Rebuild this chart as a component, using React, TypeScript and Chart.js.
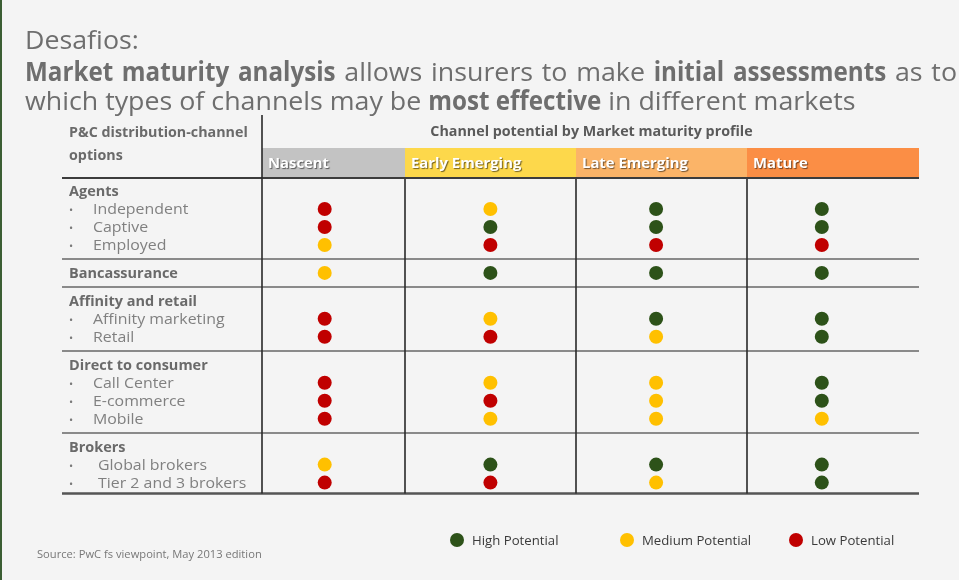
import React, { useEffect, useRef } from "react";
import { Chart, registerables } from "chart.js";

Chart.register(...registerables);

// ---------------- DATA ----------------
const profiles = ["Nascent", "Early Emerging", "Late Emerging", "Mature"];
const levels = ["High", "Medium", "Low"];
const levelLabels = ["High Potential", "Medium Potential", "Low Potential"];

const channelRows = [
  "Independent",
  "Captive",
  "Employed",
  "Bancassurance",
  "Affinity marketing",
  "Retail",
  "Call Center",
  "E-commerce",
  "Mobile",
  "Global brokers",
  "Tier 2 and 3 brokers",
];
const channelGroup = [
  "Agents",
  "Agents",
  "Agents",
  "Bancassurance",
  "Affinity and retail",
  "Affinity and retail",
  "Direct to consumer",
  "Direct to consumer",
  "Direct to consumer",
  "Brokers",
  "Brokers",
];

const nascent = ["Low", "Low", "Medium", "Medium", "Low", "Low", "Low", "Low", "Low", "Medium", "Low"];
const earlyEmerging = ["Medium", "High", "Low", "High", "Medium", "Low", "Medium", "Low", "Medium", "High", "Low"];
const lateEmerging = ["High", "High", "Low", "High", "High", "Medium", "Medium", "Medium", "Medium", "High", "Medium"];
const mature = ["High", "High", "Low", "High", "High", "High", "High", "High", "Medium", "High", "High"];
const columns = [nascent, earlyEmerging, lateEmerging, mature];

// ---------------- STYLE / LAYOUT ----------------
const FONT = "'Open Sans', 'DejaVu Sans', sans-serif";
const BG = "#f4f4f4";
const levelColors: Record<string, string> = { High: "#2d5219", Medium: "#ffc000", Low: "#c00000" };
const headerColors = ["#c3c3c3", "#fdd84b", "#fbb468", "#fb8e45"];
const colEdges = [262, 405, 576, 747, 919];
const TABLE_LEFT = 62;
const HEADER_TOP = 148;
const HEADER_BOTTOM = 177;
const PITCH = 18;
const AREA_TOP = 173;
const AREA_BOTTOM = 500;
const GAP = 1.55;
const legendX = [457, 627, 796];

// horizontal stretch factors per text style (to mimic the original geometric face)
const SX_TITLE = 1.03;
const SX_TITLE_BOLD = 0.93;
const SX_HEAD = 1.02;
const SX_GROUP = 0.965;
const SX_ITEM = 1.06;
const SX_LEGEND = 1.015;
const SX_SOURCE = 1.015;

// build the line layout of rows (in "text line" units)
function buildLayout() {
  const rowLine: number[] = [];
  const headers: { line: number; name: string }[] = [];
  const seps: number[] = [];
  let start = 0;
  let last = -1;
  let cur = "";
  channelRows.forEach((name, i) => {
    const g = channelGroup[i];
    if (g !== cur) {
      if (cur !== "") {
        seps.push(last + GAP / 2);
        start = last + GAP;
      }
      cur = g;
      if (name === g) {
        rowLine.push(start);
        last = start;
      } else {
        headers.push({ line: start, name: g });
        rowLine.push(start + 1);
        last = start + 1;
      }
    } else {
      last = last + 1;
      rowLine.push(last);
    }
  });
  const bottom = last + 0.6;
  return { rowLine, headers, seps, bottom };
}
const layout = buildLayout();

function txt(
  ctx: CanvasRenderingContext2D,
  s: string,
  x: number,
  y: number,
  font: string,
  color: string,
  sx: number,
  align: "left" | "center" = "left"
) {
  ctx.save();
  ctx.font = font;
  ctx.fillStyle = color;
  ctx.textBaseline = "alphabetic";
  ctx.textAlign = "left";
  const w = ctx.measureText(s).width * sx;
  const x0 = align === "center" ? x - w / 2 : x;
  ctx.translate(x0, y);
  ctx.scale(sx, 1);
  ctx.fillText(s, 0, 0);
  ctx.restore();
  return w;
}

function measure(ctx: CanvasRenderingContext2D, s: string, font: string, sx: number) {
  ctx.save();
  ctx.font = font;
  const w = ctx.measureText(s).width * sx;
  ctx.restore();
  return w;
}

const decorPlugin = {
  id: "tableDecor",
  beforeDraw(chart: any) {
    const ctx: CanvasRenderingContext2D = chart.ctx;
    const W = chart.width;
    const H = chart.height;
    const ys = chart.scales.y;
    const py = (v: number) => ys.getPixelForValue(v);
    ctx.save();
    ctx.fillStyle = BG;
    ctx.fillRect(0, 0, W, H);
    // left edge accent
    ctx.fillStyle = "#3b5e33";
    ctx.fillRect(0, 0, 2, H);

    // ---- title ----
    const tColor = "#6e6e6e";
    const tReg = `26px ${FONT}`;
    const tBold = `bold 26px ${FONT}`;
    txt(ctx, "Desafios:", 25, 49, tReg, tColor, SX_TITLE);
    const line2: [string, boolean][] = [
      ["Market", true], ["maturity", true], ["analysis", true], ["allows", false], ["insurers", false],
      ["to", false], ["make", false], ["initial", true], ["assessments", true], ["as", false], ["to", false],
    ];
    const widths = line2.map(([w, b]) => measure(ctx, w, b ? tBold : tReg, b ? SX_TITLE_BOLD : SX_TITLE));
    const total = widths.reduce((a, b) => a + b, 0);
    const gap = (957 - 25 - total) / (line2.length - 1);
    let x = 25;
    line2.forEach(([w, b], i) => {
      txt(ctx, w, x, 81, b ? tBold : tReg, tColor, b ? SX_TITLE_BOLD : SX_TITLE);
      x += widths[i] + gap;
    });
    const line3: [string, boolean][] = [
      ["which types of channels may be ", false], ["most effective", true], [" in different markets", false],
    ];
    x = 25;
    line3.forEach(([w, b]) => {
      x += txt(ctx, w, x, 110, b ? tBold : tReg, tColor, b ? SX_TITLE_BOLD : SX_TITLE);
    });

    // ---- table headers ----
    const hBold = `bold 14px ${FONT}`;
    txt(ctx, "P&C distribution-channel", 69, 137, hBold, "#6a6a6a", SX_HEAD);
    txt(ctx, "options", 69, 160, hBold, "#6a6a6a", SX_HEAD);
    txt(ctx, "Channel potential by Market maturity profile", (colEdges[0] + colEdges[4]) / 2 + 1, 136, hBold, "#5a5a5a", SX_HEAD, "center");

    profiles.forEach((p, i) => {
      ctx.fillStyle = headerColors[i];
      ctx.fillRect(colEdges[i], HEADER_TOP, colEdges[i + 1] - colEdges[i], HEADER_BOTTOM - HEADER_TOP);
      ctx.save();
      ctx.shadowColor = "rgba(0,0,0,0.55)";
      ctx.shadowOffsetX = 1;
      ctx.shadowOffsetY = 1;
      ctx.shadowBlur = 1;
      txt(ctx, p, colEdges[i] + 6, 168, hBold, "#ffffff", 1.06);
      ctx.restore();
    });

    // ---- lines ----
    const yBottom = py(layout.bottom);
    ctx.lineCap = "butt";
    ctx.strokeStyle = "#8a8a8a";
    ctx.lineWidth = 2;
    layout.seps.forEach((s) => {
      const yy = Math.round(py(s));
      ctx.beginPath();
      ctx.moveTo(TABLE_LEFT, yy);
      ctx.lineTo(colEdges[4], yy);
      ctx.stroke();
    });
    ctx.strokeStyle = "#3c3c3c";
    ctx.beginPath();
    ctx.moveTo(TABLE_LEFT, HEADER_BOTTOM + 1);
    ctx.lineTo(colEdges[4], HEADER_BOTTOM + 1);
    ctx.stroke();
    ctx.strokeStyle = "#555555";
    ctx.lineWidth = 2.5;
    ctx.beginPath();
    ctx.moveTo(TABLE_LEFT, yBottom);
    ctx.lineTo(colEdges[4], yBottom);
    ctx.stroke();
    ctx.strokeStyle = "#2a2a2a";
    ctx.lineWidth = 1.6;
    ctx.beginPath();
    ctx.moveTo(colEdges[0], 115);
    ctx.lineTo(colEdges[0], yBottom);
    for (let i = 1; i < 4; i++) {
      ctx.moveTo(colEdges[i], HEADER_BOTTOM + 2);
      ctx.lineTo(colEdges[i], yBottom);
    }
    ctx.stroke();

    // ---- row labels ----
    const gBold = `bold 15px ${FONT}`;
    const iReg = `15px ${FONT}`;
    layout.headers.forEach((h) => {
      txt(ctx, h.name, 69, py(h.line) + 5, gBold, "#6a6a6a", SX_GROUP);
    });
    channelRows.forEach((name, i) => {
      const yy = py(layout.rowLine[i]) + 5;
      if (name === channelGroup[i]) {
        txt(ctx, name, 69, yy, gBold, "#6a6a6a", SX_GROUP);
      } else {
        const indent = channelGroup[i] === "Brokers" ? 98 : 93;
        txt(ctx, "•", 69, yy, `11px ${FONT}`, "#7a7a7a", 1);
        txt(ctx, name, indent, yy, iReg, "#808080", SX_ITEM);
      }
    });

    // ---- legend ----
    levels.forEach((lv, i) => {
      ctx.fillStyle = levelColors[lv];
      ctx.beginPath();
      ctx.arc(legendX[i], 540, 7, 0, Math.PI * 2);
      ctx.fill();
      txt(ctx, levelLabels[i], legendX[i] + 15, 545, `13px ${FONT}`, "#3a3a3a", SX_LEGEND);
    });

    // ---- source ----
    txt(ctx, "Source: PwC fs viewpoint, May 2013 edition", 37, 558, `11px ${FONT}`, "#777777", SX_SOURCE);
    ctx.restore();
  },
};

export default function App() {
  const ref = useRef<HTMLCanvasElement | null>(null);
  useEffect(() => {
    if (!ref.current) return;
    const datasets = levels.map((lv, li) => {
      const data: { x: number; y: number }[] = [];
      columns.forEach((col, c) => {
        col.forEach((v, r) => {
          if (v === lv) data.push({ x: c, y: layout.rowLine[r] });
        });
      });
      return {
        label: levelLabels[li],
        data,
        backgroundColor: levelColors[lv],
        borderWidth: 0,
        pointRadius: 7,
        pointHoverRadius: 7,
        showLine: false,
      };
    });
    // x: column index -> dot centre (fit to the reference's dot positions)
    const step = 165.7;
    const first = 324.7;
    const left = first - 0.5 * step;
    const right = 959 - (left + 4 * step);
    const chart = new Chart(ref.current, {
      type: "scatter",
      data: { datasets },
      options: {
        animation: false,
        responsive: false,
        events: [],
        layout: { padding: { left, right, top: AREA_TOP, bottom: 580 - AREA_BOTTOM } },
        scales: {
          x: { type: "linear", min: -0.5, max: 3.5, display: false },
          y: {
            type: "linear",
            reverse: true,
            min: -1,
            max: -1 + (AREA_BOTTOM - AREA_TOP) / PITCH,
            display: false,
          },
        },
        plugins: { legend: { display: false }, tooltip: { enabled: false } },
      },
      plugins: [decorPlugin],
    } as any);
    return () => chart.destroy();
  }, []);
  return (
    <div style={{ position: "fixed", left: 0, top: 0, width: 959, height: 580 }}>
      <canvas ref={ref} width={959} height={580} style={{ width: 959, height: 580, display: "block" }} />
    </div>
  );
}
